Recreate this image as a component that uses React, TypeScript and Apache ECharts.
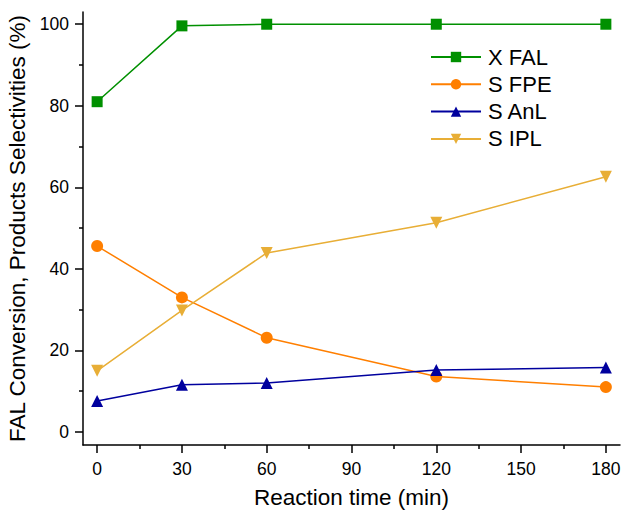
import React, { useEffect, useRef } from "react";
import * as echarts from "echarts";

// Reaction time (min)
const times = [0, 30, 60, 120, 180];

// Conversion / selectivity values (%)
const xFAL = [81, 99.6, 100, 100, 100];
const sFPE = [45.6, 33, 23.1, 13.6, 11.0];
const sAnL = [7.6, 11.6, 12.0, 15.2, 15.8];
const sIPL = [15.0, 29.8, 43.9, 51.3, 62.6];

// Axis ticks
const xMajorTicks = [0, 30, 60, 90, 120, 150, 180];
const xMinorTicks = [15, 45, 75, 105, 135, 165];
const yMajorTicks = [0, 20, 40, 60, 80, 100];
const yMinorTicks = [10, 30, 50, 70, 90];

const FONT = "'Liberation Sans', Arial, Helvetica, sans-serif";

const pairs = (ys: number[]) => times.map((t, i) => [t, ys[i]]);

export default function App() {
  const ref = useRef<HTMLDivElement>(null);

  useEffect(() => {
    if (!ref.current) return;
    const chart = echarts.init(ref.current, undefined, { renderer: "svg" });

    const xRange = { min: -5, max: 185 };
    const yRange = { min: -3.2, max: 103 };
    const grid = { left: 83, top: 12, right: 3, bottom: 65 };

    const mk = (
      name: string,
      data: number[],
      color: string,
      symbol: string,
      symbolSize: number,
      symbolRotate = 0
    ) => ({
      name,
      type: "line",
      data: pairs(data),
      xAxisIndex: 0,
      yAxisIndex: 0,
      symbol,
      symbolSize,
      symbolRotate,
      showAllSymbol: true,
      lineStyle: { color, width: 1.5 },
      itemStyle: { color },
      z: 3,
    });

    chart.setOption({
      animation: false,
      backgroundColor: "#ffffff",
      textStyle: { fontFamily: FONT },
      grid: { ...grid, containLabel: false, outerBoundsMode: "none" },
      legend: {
        orient: "vertical",
        left: 430,
        top: 46,
        padding: 0,
        itemWidth: 50,
        itemHeight: 13,
        itemGap: 5.3,
        textStyle: {
          fontFamily: FONT,
          fontSize: 22,
          lineHeight: 22,
          color: "#000",
          padding: [0, 0, 0, 2],
        },
        data: ["X FAL", "S FPE", "S AnL", "S IPL"],
      },
      xAxis: [
        {
          type: "value",
          ...xRange,
          name: "Reaction time (min)",
          nameLocation: "middle",
          nameGap: 41,
          nameTextStyle: { fontFamily: FONT, fontSize: 22.5, lineHeight: 23, color: "#000" },
          axisLine: { show: true, onZero: false, lineStyle: { color: "#000", width: 1.5 } },
          axisTick: { show: true, customValues: xMajorTicks, length: 8, inside: false, lineStyle: { color: "#000", width: 1.5 } },
          axisLabel: { customValues: xMajorTicks, fontFamily: FONT, fontSize: 17.5, color: "#000", margin: 15 },
          splitLine: { show: false },
        },
        {
          type: "value",
          ...xRange,
          position: "bottom",
          axisLine: { show: false, onZero: false },
          axisTick: { show: true, customValues: xMinorTicks, length: 4, lineStyle: { color: "#000", width: 1.5 } },
          axisLabel: { show: false },
          splitLine: { show: false },
        },
      ],
      yAxis: [
        {
          type: "value",
          ...yRange,
          name: "FAL Conversion, Products Selectivities (%)",
          nameLocation: "middle",
          nameGap: 50,
          nameTextStyle: { fontFamily: FONT, fontSize: 22.5, color: "#000" },
          axisLine: { show: true, onZero: false, lineStyle: { color: "#000", width: 1.5 } },
          axisTick: { show: true, customValues: yMajorTicks, length: 8, lineStyle: { color: "#000", width: 1.5 } },
          axisLabel: { customValues: yMajorTicks, fontFamily: FONT, fontSize: 17.5, color: "#000", margin: 14 },
          splitLine: { show: false },
        },
        {
          type: "value",
          ...yRange,
          position: "left",
          axisLine: { show: false, onZero: false },
          axisTick: { show: true, customValues: yMinorTicks, length: 4, lineStyle: { color: "#000", width: 1.5 } },
          axisLabel: { show: false },
          splitLine: { show: false },
        },
      ],
      series: [
        mk("X FAL", xFAL, "#009000", "rect", 11),
        mk("S FPE", sFPE, "#FF7F00", "circle", 12),
        mk("S AnL", sAnL, "#00009E", "triangle", 12),
        mk("S IPL", sIPL, "#E8AE36", "triangle", 12, 180),
      ],
    });

    return () => chart.dispose();
  }, []);

  return (
    <div
      ref={ref}
      style={{ position: "fixed", left: 0, top: 0, width: 623, height: 510, background: "#fff" }}
    />
  );
}
